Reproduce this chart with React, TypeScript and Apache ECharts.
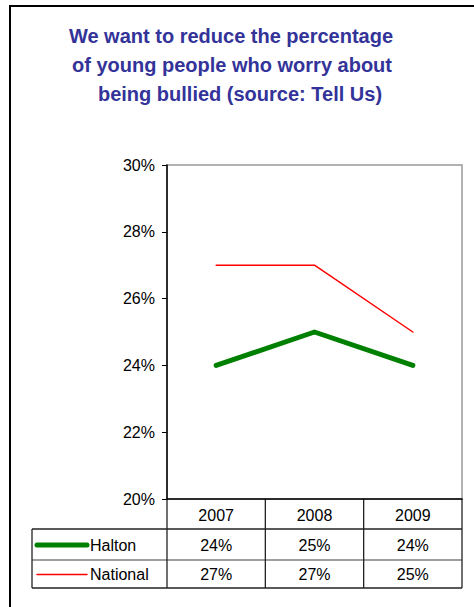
import React, { useEffect, useRef } from "react";
import * as echarts from "echarts";

const titleLines = [
  "We want to reduce the percentage",
  "of young people who worry about",
  "being bullied (source: Tell Us)",
];
const categories = ["2007", "2008", "2009"];
const seriesNames = ["Halton", "National"];
const haltonValues = [24, 25, 24];
const nationalValues = [27, 27, 25];
const yTicks = { min: 20, max: 30, interval: 2 };

const FONT = "'Liberation Sans', Arial, sans-serif";

export default function App() {
  const ref = useRef<HTMLDivElement>(null);
  useEffect(() => {
    if (!ref.current) return;
    const chart = echarts.init(ref.current, null, { renderer: "svg" });
    const left = 167, top = 165, width = 295, height = 334;
    const bottom = top + height; // 499
    const right = left + width; // 462
    const rowLines = [529, 560, 588];
    const colW = width / categories.length;
    const seriesValues = [haltonValues, nationalValues];
    const seriesColors = ["#008000", "#ff0000"];
    const seriesWidths = [5, 1.5];

    const graphics: any[] = [];
    // outer frame
    graphics.push({
      type: "rect",
      shape: { x: 10, y: 6, width: 490, height: 640 },
      style: { fill: "none", stroke: "#000", lineWidth: 2 },
      silent: true,
    });
    // title
    const titleX = [231, 232, 240];
    const titleY = [36, 65, 94];
    titleLines.forEach((t, i) => {
      graphics.push({
        type: "text",
        x: titleX[i],
        y: titleY[i],
        style: {
          text: t,
          fill: "#333399",
          font: `bold 20px ${FONT}`,
          align: "center",
          verticalAlign: "middle",
        },
      });
    });
    // table lines
    rowLines.forEach((y, i) => {
      graphics.push({
        type: "line",
        shape: { x1: 32, y1: y, x2: right, y2: y },
        style: { stroke: i === 1 ? "#7f7f7f" : "#222", lineWidth: 1.3 },
      });
    });
    graphics.push({
      type: "line",
      shape: { x1: 32, y1: rowLines[0], x2: 32, y2: rowLines[2] },
      style: { stroke: "#222", lineWidth: 1.3 },
    });
    for (let i = 0; i <= categories.length; i++) {
      const x = left + colW * i;
      graphics.push({
        type: "line",
        shape: { x1: x, y1: bottom, x2: x, y2: rowLines[2] },
        style: { stroke: "#222", lineWidth: 1.3 },
      });
    }
    // row headers (legend keys) and values
    seriesNames.forEach((name, s) => {
      const cy = (rowLines[s] + rowLines[s + 1]) / 2 + 0.5;
      graphics.push({
        type: "line",
        shape: { x1: 37, y1: cy, x2: 87, y2: cy },
        style: { stroke: seriesColors[s], lineWidth: seriesWidths[s], lineCap: "round" },
      });
      graphics.push({
        type: "text",
        x: 90,
        y: cy,
        style: { text: name, fill: "#000", font: `16px ${FONT}`, align: "left", verticalAlign: "middle" },
      });
      seriesValues[s].forEach((v, i) => {
        graphics.push({
          type: "text",
          x: left + colW * (i + 0.5),
          y: cy,
          style: { text: `${Math.round(v)}%`, fill: "#000", font: `16px ${FONT}`, align: "center", verticalAlign: "middle" },
        });
      });
    });

    chart.setOption({
      animation: false,
      backgroundColor: "#fff",
      grid: {
        left,
        top,
        width,
        height,
        show: true,
        borderColor: "#999",
        borderWidth: 1.5,
        backgroundColor: "transparent",
      },
      xAxis: {
        type: "category",
        data: categories,
        boundaryGap: true,
        axisLine: { show: true, lineStyle: { color: "#000", width: 1.5 } },
        axisTick: { show: false },
        axisLabel: { color: "#000", fontFamily: FONT, fontSize: 16, margin: 8 },
        splitLine: { show: false },
      },
      yAxis: {
        type: "value",
        min: yTicks.min,
        max: yTicks.max,
        interval: yTicks.interval,
        axisLine: { show: true, lineStyle: { color: "#000", width: 1.5 } },
        axisTick: { show: true, length: 5, lineStyle: { color: "#000", width: 1 } },
        axisLabel: {
          color: "#000",
          fontFamily: FONT,
          fontSize: 16,
          margin: 12,
          formatter: "{value}%",
        },
        splitLine: { show: false },
      },
      series: seriesNames.map((name, s) => ({
        name,
        type: "line",
        data: seriesValues[s],
        showSymbol: false,
        symbol: "none",
        lineStyle: { color: seriesColors[s], width: seriesWidths[s], cap: "round", join: "round" },
        z: s === 0 ? 3 : 2,
      })),
      graphic: graphics,
    });
    return () => chart.dispose();
  }, []);
  return (
    <div
      ref={ref}
      style={{ position: "fixed", left: 0, top: 0, width: 474, height: 607, background: "#fff" }}
    />
  );
}
